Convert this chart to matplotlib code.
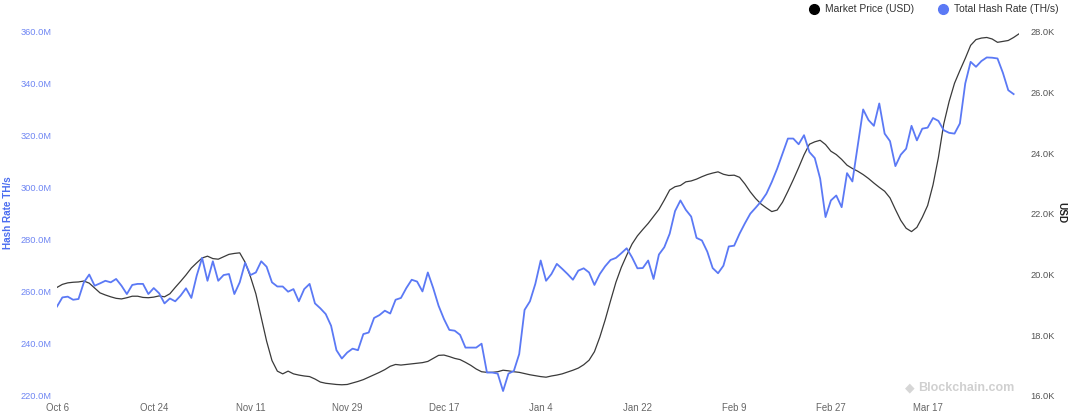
import matplotlib
matplotlib.use("Agg")
import matplotlib.pyplot as plt
import matplotlib.dates as mdates
from matplotlib.lines import Line2D
import pandas as pd

plt.rcParams["font.family"] = ["Liberation Sans", "DejaVu Sans"]

start_date = "2022-10-06"

hash_rate_m = [
    254.3, 257.8, 258.1, 256.9, 257.2, 263.6, 266.6, 262.3, 263.2, 264.2,
    263.6, 264.9, 262.3, 259.1, 262.6, 263.0, 263.0, 259.1, 261.4, 259.4,
    255.5, 257.4, 256.3, 258.5, 261.3, 257.6, 266.2, 273.0, 264.2, 271.7,
    264.2, 266.4, 266.8, 259.1, 263.6, 271.1, 266.4, 267.4, 271.7, 269.6,
    263.6, 262.0, 262.0, 260.0, 261.0, 256.3, 261.0, 263.0, 255.5, 253.6,
    251.4, 246.9, 237.5, 234.3, 236.6, 238.1, 237.5, 243.7, 244.3, 249.9,
    251.0, 252.7, 251.6, 256.9, 257.6, 261.4, 264.6, 263.9, 260.1, 267.4,
    261.4, 254.6, 249.5, 245.3, 245.0, 243.4, 238.5, 238.5, 238.5, 240.0,
    228.9, 228.9, 228.5, 221.8, 228.5, 229.5, 236.0, 253.0, 256.3, 263.0,
    272.0, 264.2, 266.8, 270.7, 268.8, 266.8, 264.6, 268.1, 269.0, 267.4,
    262.6, 266.8, 269.8, 272.2, 273.0, 274.8, 276.7, 273.2, 269.0, 269.1,
    272.0, 264.9, 274.3, 277.1, 282.3, 291.0, 295.1, 291.5, 288.9, 280.7,
    279.7, 275.4, 269.1, 267.1, 270.0, 277.4, 277.7, 282.3, 286.3, 290.0,
    292.3, 294.7, 297.7, 302.2, 307.3, 313.1, 318.9, 318.9, 316.7, 320.2,
    313.7, 311.4, 303.5, 288.7, 295.1, 297.0, 292.5, 305.6, 302.4, 316.3,
    330.1, 326.0, 323.8, 332.4, 320.8, 317.9, 308.3, 312.7, 315.0, 323.8,
    318.2, 322.7, 323.1, 326.8, 325.7, 322.1, 321.1, 320.8, 324.7, 340.1,
    348.4, 346.5, 348.7, 350.1, 350.0, 349.7, 344.2, 337.5, 336.0,
]

price_k = [
    19.57, 19.67, 19.72, 19.74, 19.75, 19.78, 19.71, 19.55, 19.39, 19.32,
    19.26, 19.21, 19.19, 19.23, 19.28, 19.28, 19.24, 19.23, 19.25, 19.29,
    19.26, 19.36, 19.57, 19.77, 19.98, 20.21, 20.38, 20.54, 20.60, 20.52,
    20.50, 20.58, 20.66, 20.69, 20.71, 20.40, 19.92, 19.36, 18.58, 17.80,
    17.16, 16.81, 16.72, 16.81, 16.72, 16.68, 16.65, 16.63, 16.55, 16.45,
    16.41, 16.39, 16.37, 16.36, 16.37, 16.42, 16.47, 16.53, 16.61, 16.69,
    16.77, 16.86, 16.97, 17.03, 17.01, 17.03, 17.05, 17.07, 17.09, 17.13,
    17.23, 17.33, 17.34, 17.29, 17.23, 17.19, 17.10, 17.00, 16.88, 16.79,
    16.77, 16.77, 16.79, 16.84, 16.82, 16.79, 16.77, 16.73, 16.69, 16.66,
    16.63, 16.61, 16.65, 16.68, 16.72, 16.78, 16.84, 16.91, 17.02, 17.17,
    17.45, 17.93, 18.50, 19.13, 19.74, 20.23, 20.63, 21.00, 21.27, 21.48,
    21.68, 21.91, 22.14, 22.45, 22.78, 22.89, 22.93, 23.05, 23.08, 23.14,
    23.22, 23.29, 23.34, 23.38, 23.30, 23.26, 23.27, 23.20, 22.98, 22.72,
    22.50, 22.32, 22.19, 22.07, 22.12, 22.38, 22.74, 23.12, 23.52, 23.94,
    24.29, 24.37, 24.42, 24.28, 24.06, 23.95, 23.79, 23.60, 23.49, 23.40,
    23.29, 23.16, 23.01, 22.87, 22.74, 22.52, 22.14, 21.78, 21.52, 21.41,
    21.55, 21.88, 22.27, 22.95, 23.85, 24.96, 25.70, 26.30, 26.72, 27.12,
    27.55, 27.74, 27.79, 27.81, 27.76, 27.65, 27.68, 27.71, 27.81, 27.93,
]

left_ticks = [220, 240, 260, 280, 300, 320, 340, 360]
right_ticks = [16, 18, 20, 22, 24, 26, 28]
x_tick_dates = ["2022-10-06", "2022-10-24", "2022-11-11", "2022-11-29", "2022-12-17",
                "2023-01-04", "2023-01-22", "2023-02-09", "2023-02-27", "2023-03-17"]

hash_dates = pd.date_range(start_date, periods=len(hash_rate_m), freq="D")
price_dates = pd.date_range(start_date, periods=len(price_k), freq="D")

BLUE = "#5b79f5"
LABEL_BLUE = "#6f86f3"
GRAY = "#666666"

W, H = 1068, 413
fig = plt.figure(figsize=(W / 100, H / 100), dpi=100)
ax = fig.add_axes([57 / W, 1 - 395.7 / H, (1019 - 57) / W, (395.7 - 31.7) / H])
ax2 = ax.twinx()

ax.plot(hash_dates, hash_rate_m, color=BLUE, lw=1.3, zorder=3)
ax2.plot(price_dates, price_k, color="#3a3a3a", lw=0.9, zorder=2)
ax.set_zorder(ax2.get_zorder() + 1)
ax.patch.set_visible(False)

ax.set_ylim(220, 360)
ax2.set_ylim(16, 28)
ax.set_xlim(price_dates[0], price_dates[-1])

ax.set_yticks(left_ticks)
ax.set_yticklabels([f"{v:.1f}M" for v in left_ticks], color=LABEL_BLUE, fontsize=6.7)
ax2.set_yticks(right_ticks)
ax2.set_yticklabels([f"{v:.1f}K" for v in right_ticks], color="#555555", fontsize=6.7)

ax.set_xticks(pd.to_datetime(x_tick_dates))
ax.xaxis.set_major_formatter(mdates.DateFormatter("%b %-d"))
for lbl in ax.get_xticklabels():
    lbl.set_color(GRAY)
    lbl.set_fontsize(6.9)

ax.tick_params(axis="both", length=0)
ax.tick_params(axis="x", pad=5)
ax.tick_params(axis="y", pad=4)
ax2.tick_params(axis="y", length=0, pad=8)

for a in (ax, ax2):
    for s in a.spines.values():
        s.set_visible(False)

fig.text(8 / W, 1 - 213 / H, "Hash Rate TH/s", color="#4a6cf0", fontsize=7.2,
         fontweight="bold", rotation=90, va="center", ha="center")
fig.text(1061 / W, 1 - 213 / H, "USD", color="#222222", fontsize=7.2,
         fontweight="bold", rotation=270, va="center", ha="center")

handles = [
    Line2D([], [], marker="o", linestyle="none", markersize=7, markerfacecolor="black", markeredgecolor="black"),
    Line2D([], [], marker="o", linestyle="none", markersize=7, markerfacecolor=BLUE, markeredgecolor=BLUE),
]
fig.legend(handles, ["Market Price (USD)", "Total Hash Rate (TH/s)"], loc="upper right",
           bbox_to_anchor=(1.0, 1.012), ncol=2, frameon=False, fontsize=7.4, handletextpad=0.1,
           columnspacing=1.8, labelcolor="#333333")

fig.text(905 / W, 1 - 388 / H, "\u25c6", color="#d6d6d6", fontsize=9, va="center", ha="left")
fig.text(918 / W, 1 - 388 / H, "Blockchain.com", color="#d0d0d0", fontsize=9,
         fontweight="bold", va="center", ha="left")

fig.savefig("out.png", dpi=100, facecolor="white")
